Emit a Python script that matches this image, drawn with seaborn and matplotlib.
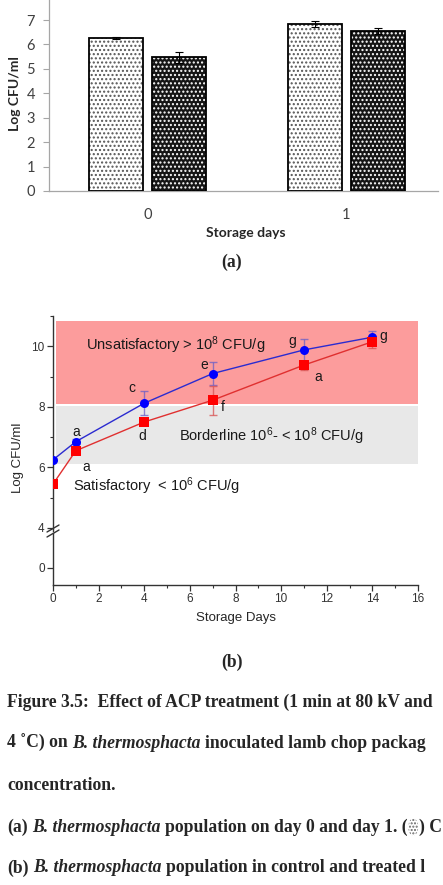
import matplotlib
matplotlib.use('Agg')
import matplotlib.pyplot as plt
import matplotlib.patches as mpatches
from matplotlib.lines import Line2D
from matplotlib.ticker import MultipleLocator, FixedLocator
import pandas as pd
import seaborn as sns

# (a) bar chart: log CFU/ml on day 0 and day 1
bar_days = ['0', '1']
bar_groups = ['Control', 'ACP']
bar_control = [6.27, 6.83]
bar_control_sd = [0.03, 0.12]
bar_treated = [5.47, 6.55]
bar_treated_sd = [0.22, 0.12]

# (b) line chart: storage days vs log CFU/ml
days = [0, 1, 4, 7, 11, 14]
control = [6.25, 6.85, 8.12, 9.10, 9.88, 10.30]
control_sd = [0.05, 0.08, 0.40, 0.38, 0.37, 0.22]
treated = [5.45, 6.55, 7.50, 8.22, 9.38, 10.15]
treated_sd = [0.10, 0.06, 0.08, 0.48, 0.15, 0.20]
control_letters = ['', 'a', 'c', 'e', 'g', 'g']
treated_letters = ['', 'a', 'd', 'f', 'a', '']
# letter offsets in pixels (dx, dy) from the point
control_offsets = [(0, 0), (0, 10), (-12, 15), (-8, 9), (-12, 9), (11, 1)]
treated_offsets = [(0, 0), (10, -16), (-2, -14), (10, -7), (14, -12), (0, 0)]

# quality zones
zone_names = ['Unsatisfactory > 10$^8$ CFU/g', 'Borderline 10$^6$- < 10$^8$ CFU/g', 'Satisfactory  < 10$^6$ CFU/g']
zone_low = [8.08, 6.1]
zone_high = [10.83, 8.03]
zone_x = [0.12, 16]
zone_colors = ['#fc9c9c', '#e8e8e8']
zone_text_pos = [(1.45, 10.05), (5.54, 7.04), (0.86, 5.39)]

W, H = 443, 885
sns.set_style('ticks')
plt.rcParams['font.family'] = ['Liberation Sans', 'DejaVu Sans']
plt.rcParams['mathtext.default'] = 'regular'
plt.rcParams['hatch.linewidth'] = 1.0

fig = plt.figure(figsize=(W / 100, H / 100), dpi=100)


def box(left, top, right, bottom):
    return [left / W, 1 - bottom / H, (right - left) / W, (bottom - top) / H]


# ---------------- (a) ----------------
ax1 = fig.add_axes(box(49, 0, 438, 191))
bar_df = pd.DataFrame({
    'day': bar_days * 2,
    'group': [bar_groups[0]] * 2 + [bar_groups[1]] * 2,
    'log': bar_control + bar_treated,
})
sns.barplot(data=bar_df, x='day', y='log', hue='group', order=bar_days,
            hue_order=bar_groups, width=0.64, gap=0.15, errorbar=None,
            legend=False, ax=ax1)
styles = [('white', '#555555', '....'), ('#151515', 'white', '....')]
for cont, (fc, hc, hatch), sds in zip(list(ax1.containers)[:2], styles,
                                      [bar_control_sd, bar_treated_sd]):
    for bar, s in zip(cont, sds):
        bar.set_facecolor(fc)
        bar.set_edgecolor(hc)
        bar.set_hatch(hatch)
        bar.set_linewidth(0)
        ax1.add_patch(mpatches.Rectangle(bar.get_xy(), bar.get_width(), bar.get_height(),
                                         fill=False, ec='black', lw=1.3, zorder=3))
        ax1.errorbar(bar.get_x() + bar.get_width() / 2, bar.get_height(), yerr=s,
                     color='black', lw=0.8, capsize=3, capthick=0.8, zorder=4)
ax1.set_xlim(-0.495, 1.46)
ax1.set_ylim(0, 7.82)
ax1.set_yticks(range(0, 8))
sns.despine(ax=ax1)
for sp in ['left', 'bottom']:
    ax1.spines[sp].set_color('#a6a6a6')
    ax1.spines[sp].set_linewidth(0.9)
ax1.tick_params(axis='y', length=4, color='#a6a6a6', pad=6, labelsize=10.5, labelcolor='#404040')
ax1.tick_params(axis='x', length=0, pad=12, labelsize=10.5, labelcolor='#404040')
for lab in ax1.get_xticklabels() + ax1.get_yticklabels():
    lab.set_family(['Lato', 'DejaVu Sans'])
ax1.set_ylabel('Log CFU/ml', family=['Lato', 'DejaVu Sans'], fontweight='bold', fontsize=10)
ax1.yaxis.set_label_coords(-0.087, 0.51)
ax1.yaxis.label.set_va('center')
ax1.set_xlabel('Storage days', family=['Lato', 'DejaVu Sans'], fontweight='bold', fontsize=10)
ax1.xaxis.set_label_coords(0.506, -0.22)
ax1.xaxis.label.set_va('center')

# ---------------- (b) ----------------
ax2 = fig.add_axes(box(53, 316, 418, 531))
ax3 = fig.add_axes(box(53, 533, 418, 585))

for (lo, hi, c) in zip(zone_low, zone_high, zone_colors):
    ax2.fill_between(zone_x, lo, hi, color=c, lw=0, zorder=0)

line_df = pd.DataFrame({
    'day': days * 2,
    'log': control + treated,
    'group': ['Control'] * len(days) + ['Treated'] * len(days),
})
sns.lineplot(data=line_df, x='day', y='log', hue='group', style='group',
             palette={'Control': '#2b2bd0', 'Treated': '#e03030'},
             markers={'Control': 'o', 'Treated': 's'}, dashes=False,
             markersize=6.5, markeredgewidth=0, lw=1, legend=False, ax=ax2, zorder=3)
for line, c in zip(ax2.lines[:2], ['#0000ff', '#ff0000']):
    line.set_markerfacecolor(c)
ax2.errorbar(days, control, yerr=control_sd, fmt='none', ecolor='#6a5fc8',
             alpha=0.75, lw=1, capsize=3, zorder=2)
ax2.errorbar(days, treated, yerr=treated_sd, fmt='none', ecolor='#d85050',
             alpha=0.75, lw=1, capsize=3, zorder=2)

for xs, ys, labs, offs in [(days, control, control_letters, control_offsets),
                           (days, treated, treated_letters, treated_offsets)]:
    for x, y, lab, off in zip(xs, ys, labs, offs):
        if lab:
            ax2.annotate(lab, (x, y), xytext=off, textcoords='offset pixels',
                         ha='center', va='center', fontsize=10, color='#1a1a1a')

for name, (tx, ty) in zip(zone_names, zone_text_pos):
    ax2.text(tx, ty, name, ha='left', va='center', fontsize=10.5, color='#1a1a1a')

ax2.set_xlim(0, 16)
ax2.set_ylim(3.9, 11.0)
ax2.yaxis.set_major_locator(FixedLocator([4, 6, 8, 10]))
ax2.yaxis.set_minor_locator(FixedLocator([5, 7, 9, 11]))
ax2.set_xticks([])
ax2.set_xlabel('')
ax2.set_ylabel('Log CFU/ml', fontsize=9.5)
ax2.yaxis.set_label_coords(-0.096, 0.34)
ax2.yaxis.label.set_va('center')
for sp in ['top', 'right', 'bottom']:
    ax2.spines[sp].set_visible(False)

ax3.set_xlim(0, 16)
ax3.set_ylim(-0.59, 1.19)
ax3.set_yticks([0])
ax3.xaxis.set_major_locator(MultipleLocator(2))
ax3.xaxis.set_minor_locator(MultipleLocator(1))
for sp in ['top', 'right']:
    ax3.spines[sp].set_visible(False)
ax3.set_xlabel('Storage Days', fontsize=9.5)
ax3.xaxis.set_label_coords(0.5, -0.63)
ax3.xaxis.label.set_va('center')

for a in (ax2, ax3):
    a.set_facecolor('none')
    for sp in ['left', 'bottom']:
        a.spines[sp].set_color('#333333')
        a.spines[sp].set_linewidth(1)
    a.tick_params(which='major', direction='out', length=4, width=0.9, color='#333333',
                  labelsize=8.5, labelcolor='#333333', pad=2)
    a.tick_params(which='minor', direction='out', length=2.5, width=0.8, color='#333333')

# axis break marks
for y0 in (532, 537):
    fig.add_artist(Line2D([47 / W, 59 / W], [1 - y0 / H, 1 - (y0 - 7) / H],
                          color='#333333', lw=1))

# ---------------- captions ----------------
serif = ['Liberation Serif', 'DejaVu Serif']
CAP = 12.7
fig.text(232 / W, 1 - 262 / H, '(a)', ha='center', va='center', family=serif,
         fontweight='bold', fontsize=CAP)
fig.text(232 / W, 1 - 662 / H, '(b)', ha='center', va='center', family=serif,
         fontweight='bold', fontsize=CAP)

renderer = fig.canvas.get_renderer()
SPACE = 4.5


def write_line(y, parts, x=7):
    end = x
    for text, style in parts:
        t = fig.text(x / W, 1 - y / H, text, ha='left', va='center', family=serif,
                     fontweight='bold', fontstyle=style, fontsize=CAP)
        end = t.get_window_extent(renderer).x1
        x = end + SPACE
    return end


write_line(702, [('Figure 3.5:  Effect of ACP treatment (1 min at 80 kV and', 'normal')])
write_line(743, [('4 \u02daC) on', 'normal'), ('B. thermosphacta', 'italic'),
                 ('inoculated lamb chop packag', 'normal')])
write_line(785, [('concentration.', 'normal')])
xe = write_line(827, [('(a)', 'normal'), ('B. thermosphacta', 'italic'),
                      ('population on day 0 and day 1. (', 'normal')])
sw = mpatches.Ellipse(((xe + 5.5) / W, 1 - 827 / H), 10 / W, 17 / H, transform=fig.transFigure,
                      facecolor='white', edgecolor='#666666', hatch='.....', lw=0)
fig.add_artist(sw)
write_line(827, [(') C', 'normal')], x=xe + 11)
write_line(868, [('(b)', 'normal'), ('B. thermosphacta', 'italic'),
                 ('population in control and treated l', 'normal')])

fig.savefig('out.png', dpi=100)
